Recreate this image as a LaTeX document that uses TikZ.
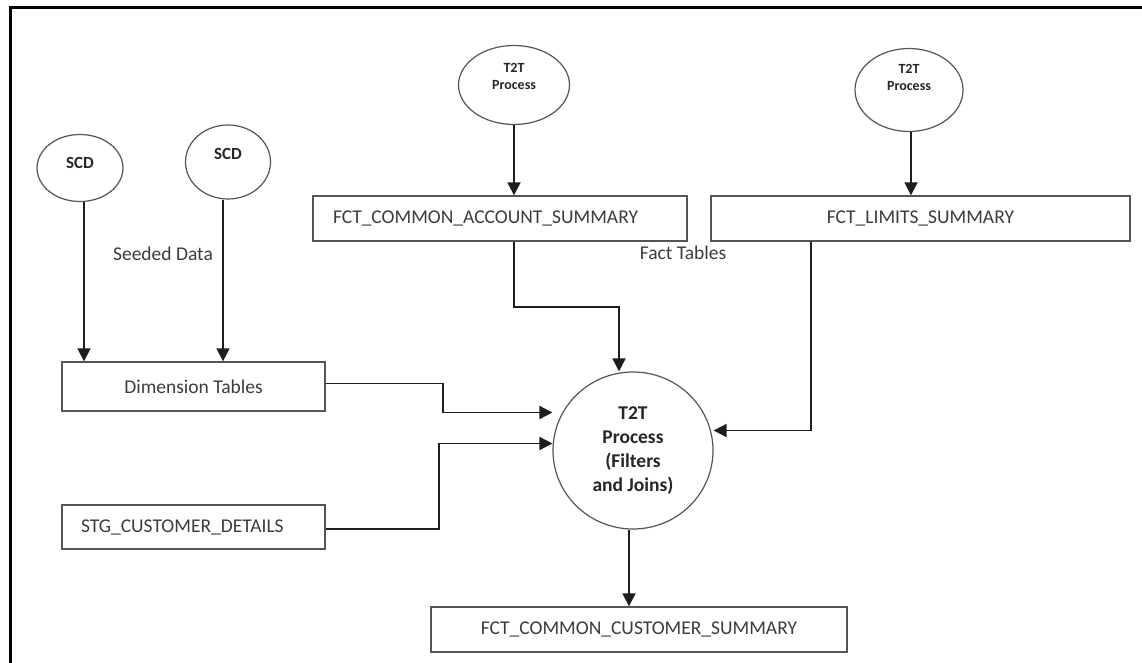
\documentclass[tikz,border=0pt]{standalone}
\usepackage{fontspec}
\setmainfont{Carlito}
\usetikzlibrary{shapes.geometric,arrows.meta}
\definecolor{inkline}{HTML}{1E1E1E}
\definecolor{boxline}{HTML}{555555}
\definecolor{labeltxt}{HTML}{3C3C3C}
\begin{document}
\begin{tikzpicture}[x=1pt,y=-1pt,
  tablebox/.style={draw=boxline, line width=1.4pt, rectangle, inner sep=0pt,
    font=\fontsize{19.5}{22}\selectfont, text=labeltxt},
  bubble/.style={draw=boxline, line width=1.2pt, ellipse, inner sep=0pt},
  flow/.style={draw=inkline, line width=1.8pt, -{Triangle[length=13pt,width=13pt]}},
  plainlabel/.style={font=\fontsize{19.5}{22}\selectfont, text=labeltxt, inner sep=0pt},
  smallbold/.style={font=\bfseries\fontsize{14}{17}\selectfont, align=center,
    inner sep=0pt, text=black!85},
  bigbold/.style={font=\bfseries\fontsize{17}{20}\selectfont, inner sep=0pt, text=black!85},
]
\useasboundingbox (0,0) rectangle (1142,663);
\fill[white] (0,0) rectangle (1142,663);

% frame (top and left edges)
\draw[line width=2.5pt, line join=miter] (1142,7.5) -| (10.5,663);

% source bubbles
\node[bubble, minimum width=86pt, minimum height=67pt] (scdA) at (80,168) {};
\node[bigbold] (scdAtxt) at (80,163) {SCD};
\node[bubble, minimum width=85pt, minimum height=74pt] (scdB) at (228,162) {};
\node[bigbold] (scdBtxt) at (228,154) {SCD};
\node[bubble, minimum width=111pt, minimum height=79pt] (srcA) at (514,85) {};
\node[smallbold] (srcAtxt) at (514,76) {T2T\\Process};
\node[bubble, minimum width=108pt, minimum height=83pt] (srcB) at (909,90) {};
\node[smallbold] (srcBtxt) at (909,77) {T2T\\Process};

% tables
\node[tablebox, minimum width=263pt, minimum height=49pt] (dim) at (193.5,386.5) {Dimension Tables};
\node[tablebox, text width=225pt, inner xsep=19pt, minimum height=44pt, align=left] (stg)
  at (193.5,527) {STG\_CUSTOMER\_DETAILS};
\node[tablebox, text width=334pt, inner xsep=20pt, minimum height=45pt, align=left] (acct)
  at (500,218.5) {FCT\_COMMON\_ACCOUNT\_SUMMARY};
\node[tablebox, minimum width=419pt, minimum height=45pt] (lim) at (920.5,218.5) {FCT\_LIMITS\_SUMMARY};
\node[tablebox, minimum width=416pt, minimum height=45pt] (cust) at (639,629.5) {FCT\_COMMON\_CUSTOMER\_SUMMARY};

% central process
\node[bubble, minimum width=160pt, minimum height=157pt, align=center,
  font=\bfseries\fontsize{19.5}{24}\selectfont, text=black!85] (t2t) at (633,450.5)
  {T2T\\Process\\(Filters\\and Joins)};

% free labels
\node[plainlabel] (seeded) at (163,254) {Seeded Data};
\node[plainlabel] (facts) at (683,253) {Fact Tables};

% connectors
\draw[flow] ([xshift=4pt]scdA.south) -- ([xshift=4pt]scdA.south |- dim.north);
\draw[flow] ([xshift=-5pt]scdB.south) -- ([xshift=-5pt]scdB.south |- dim.north);
\draw[flow] (srcA.south) -- (srcA.south |- acct.north);
\draw[flow] ([xshift=2pt]srcB.south) -- ([xshift=2pt]srcB.south |- lim.north);
\draw[flow] ([xshift=14pt]acct.south) -- ++(0,65) -| ([xshift=-14pt]t2t.north);
\draw[flow] ([xshift=-109.5pt]lim.south) |- ([yshift=20pt]t2t.east);
\draw[flow] ([yshift=3pt]dim.east) -- ++(117,0) |- ([yshift=38pt]t2t.west);
\draw[flow] ([yshift=-2pt]stg.east) -- ++(113,0) |- ([yshift=7pt]t2t.west);
\draw[flow] ([xshift=-4pt]t2t.south) -- ([xshift=-4pt]t2t.south |- cust.north);
\end{tikzpicture}
\end{document}
